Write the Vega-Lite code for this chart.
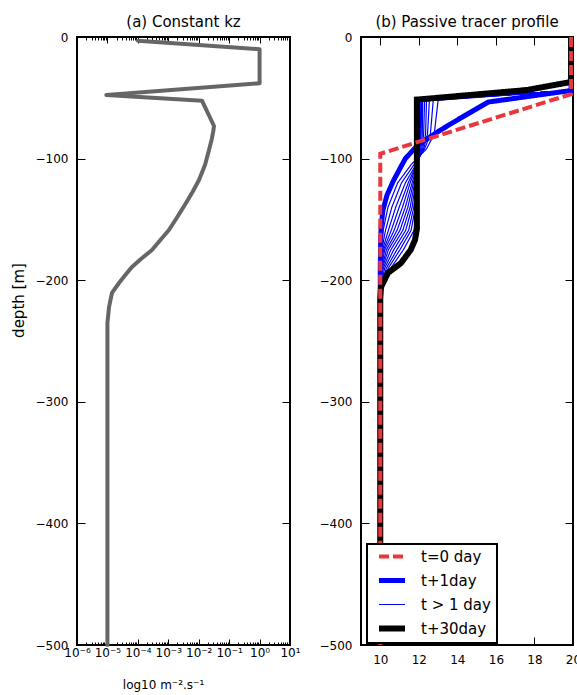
{
  "$schema": "https://vega.github.io/schema/vega-lite/v6.json",
  "padding": {"left": 10, "top": 14, "right": 5, "bottom": 5},
  "spacing": 16,
  "config": {
    "font": "DejaVu Sans",
    "view": {"stroke": "black", "strokeWidth": 2},
    "axis": {"domain": false, "grid": false, "tickColor": "black", "tickWidth": 1, "labelColor": "black", "labelFontSize": 12, "labelFont": "DejaVu Sans", "titleFont": "DejaVu Sans", "titleFontWeight": "normal", "titleFontSize": 12, "titleColor": "black", "labelOverlap": false, "labelFlush": false},
    "title": {"fontSize": 15, "fontWeight": "normal", "color": "black", "font": "DejaVu Sans", "anchor": "middle"},
    "legend": {"strokeWidth": 2}
  },
  "hconcat": [
    {
      "width": 213,
      "height": 608,
      "title": {"text": "(a) Constant kz", "offset": 1},
      "data": {"values": [
        {"kz": 0.0001, "depth": -3},
        {"kz": 1.0, "depth": -10},
        {"kz": 1.0, "depth": -38},
        {"kz": 0.0000092, "depth": -47.7},
        {"kz": 0.0128, "depth": -52.4},
        {"kz": 0.0318, "depth": -73.2},
        {"kz": 0.0298, "depth": -78},
        {"kz": 0.0268, "depth": -84},
        {"kz": 0.0218, "depth": -92.9},
        {"kz": 0.0162, "depth": -105},
        {"kz": 0.0102, "depth": -117.6},
        {"kz": 0.0064, "depth": -127},
        {"kz": 0.00382, "depth": -136.5},
        {"kz": 0.0021, "depth": -147},
        {"kz": 0.00105, "depth": -158.7},
        {"kz": 0.00055, "depth": -167},
        {"kz": 0.00029, "depth": -175.2},
        {"kz": 0.000135, "depth": -182},
        {"kz": 0.000064, "depth": -189.1},
        {"kz": 0.000038, "depth": -196},
        {"kz": 0.000024, "depth": -202.3},
        {"kz": 0.0000141, "depth": -210.5},
        {"kz": 0.0000113, "depth": -222},
        {"kz": 0.00001, "depth": -235.2},
        {"kz": 0.00001, "depth": -257},
        {"kz": 0.00001, "depth": -500}
      ]},
      "layer": [
        {
          "mark": {"type": "line", "color": "#666666", "strokeWidth": 4, "strokeCap": "round", "strokeJoin": "round"},
          "encoding": {
            "x": {"field": "kz", "type": "quantitative", "scale": {"type": "log", "domain": [0.000001, 10], "nice": false},
              "axis": {"orient": "bottom", "values": [0.000001, 0.00001, 0.0001, 0.001, 0.01, 0.1, 1, 10], "tickSize": -6, "labelPadding": 8,
                "labelExpr": "['10⁻⁶','10⁻⁵','10⁻⁴','10⁻³','10⁻²','10⁻¹','10⁰','10¹'][round(log(datum.value)/LN10)+6]",
                "title": "log10 m⁻².s⁻¹", "titleX": 86, "titleY": 43, "titleAlign": "center", "titleBaseline": "alphabetic"}},
            "y": {"field": "depth", "type": "quantitative", "scale": {"domain": [-500, 0], "nice": false, "zero": false},
              "axis": {"orient": "left", "values": [0, -100, -200, -300, -400, -500], "tickSize": -8, "labelPadding": 17,
                "title": "depth [m]", "titleFontSize": 15, "titleX": -59, "titleY": 263, "titleAlign": "center", "titleBaseline": "middle", "titleAngle": 270}},
            "order": {"field": "depth", "sort": "descending"}
          }
        },
        {
          "mark": {"type": "line", "strokeOpacity": 0},
          "encoding": {
            "x": {"field": "kz", "type": "quantitative", "axis": {"orient": "top", "values": [0.000001, 0.00001, 0.0001, 0.001, 0.01, 0.1, 1, 10], "tickSize": -6, "labels": false, "title": null}},
            "y": {"field": "depth", "type": "quantitative", "axis": {"orient": "right", "values": [0, -100, -200, -300, -400, -500], "tickSize": -8, "labels": false, "title": null}},
            "order": {"field": "depth", "sort": "descending"}
          }
        },
        {
          "mark": {"type": "line", "strokeOpacity": 0},
          "encoding": {
            "x": {"field": "kz", "type": "quantitative", "axis": {"orient": "bottom", "values": [0.000002,0.000003,0.000004,0.000005,0.000006,0.000007,0.000008,0.000009,0.00002,0.00003,0.00004,0.00005,0.00006,0.00007,0.00008,0.00009,0.0002,0.0003,0.0004,0.0005,0.0006,0.0007,0.0008,0.0009,0.002,0.003,0.004,0.005,0.006,0.007,0.008,0.009,0.02,0.03,0.04,0.05,0.06,0.07,0.08,0.09,0.2,0.3,0.4,0.5,0.6,0.7,0.8,0.9,2,3,4,5,6,7,8,9], "tickSize": -3, "labels": false, "title": null}},
            "y": {"field": "depth", "type": "quantitative", "axis": null},
            "order": {"field": "depth", "sort": "descending"}
          }
        },
        {
          "mark": {"type": "line", "strokeOpacity": 0},
          "encoding": {
            "x": {"field": "kz", "type": "quantitative", "axis": {"orient": "top", "values": [0.000002,0.000003,0.000004,0.000005,0.000006,0.000007,0.000008,0.000009,0.00002,0.00003,0.00004,0.00005,0.00006,0.00007,0.00008,0.00009,0.0002,0.0003,0.0004,0.0005,0.0006,0.0007,0.0008,0.0009,0.002,0.003,0.004,0.005,0.006,0.007,0.008,0.009,0.02,0.03,0.04,0.05,0.06,0.07,0.08,0.09,0.2,0.3,0.4,0.5,0.6,0.7,0.8,0.9,2,3,4,5,6,7,8,9], "tickSize": -3, "labels": false, "title": null}},
            "y": {"field": "depth", "type": "quantitative", "axis": null},
            "order": {"field": "depth", "sort": "descending"}
          }
        }
      ],
      "resolve": {"axis": {"x": "independent", "y": "independent"}}
    },
    {
      "width": 212,
      "height": 608,
      "title": {"text": "(b) Passive tracer profile", "offset": 1},
      "data": {"values": [
        {"s": "t=0 day", "r": "t0", "T": 19.9, "depth": 0},
        {"s": "t=0 day", "r": "t0", "T": 19.9, "depth": -47},
        {"s": "t=0 day", "r": "t0", "T": 10, "depth": -96},
        {"s": "t=0 day", "r": "t0", "T": 10, "depth": -500},

        {"s": "t+1day", "r": "t1", "T": 19.9, "depth": 0},
        {"s": "t+1day", "r": "t1", "T": 19.9, "depth": -44},
        {"s": "t+1day", "r": "t1", "T": 15.6, "depth": -53.5},
        {"s": "t+1day", "r": "t1", "T": 14.17, "depth": -66.6},
        {"s": "t+1day", "r": "t1", "T": 13.13, "depth": -76.5},
        {"s": "t+1day", "r": "t1", "T": 11.95, "depth": -88.8},
        {"s": "t+1day", "r": "t1", "T": 11.3, "depth": -100},
        {"s": "t+1day", "r": "t1", "T": 10.7, "depth": -117.6},
        {"s": "t+1day", "r": "t1", "T": 10.35, "depth": -130},
        {"s": "t+1day", "r": "t1", "T": 10.14, "depth": -142.3},
        {"s": "t+1day", "r": "t1", "T": 10.05, "depth": -155},
        {"s": "t+1day", "r": "t1", "T": 10.02, "depth": -167},
        {"s": "t+1day", "r": "t1", "T": 10, "depth": -190},
        {"s": "t+1day", "r": "t1", "T": 10, "depth": -500},

        {"s": "t+30day", "r": "t30", "T": 19.9, "depth": 0},
        {"s": "t+30day", "r": "t30", "T": 19.9, "depth": -37},
        {"s": "t+30day", "r": "t30", "T": 17.6, "depth": -43.6},
        {"s": "t+30day", "r": "t30", "T": 11.9, "depth": -51.5},
        {"s": "t+30day", "r": "t30", "T": 11.9, "depth": -158},
        {"s": "t+30day", "r": "t30", "T": 11.8, "depth": -167},
        {"s": "t+30day", "r": "t30", "T": 11.58, "depth": -175},
        {"s": "t+30day", "r": "t30", "T": 11.07, "depth": -186},
        {"s": "t+30day", "r": "t30", "T": 10.4, "depth": -194},
        {"s": "t+30day", "r": "t30", "T": 10.04, "depth": -205.6},
        {"s": "t+30day", "r": "t30", "T": 10, "depth": -215},
        {"s": "t+30day", "r": "t30", "T": 10, "depth": -500},

        {"s": "t > 1 day", "r": "d2", "T": 19.9, "depth": 0},
        {"s": "t > 1 day", "r": "d2", "T": 19.9, "depth": -44},
        {"s": "t > 1 day", "r": "d2", "T": 13.0, "depth": -52},
        {"s": "t > 1 day", "r": "d2", "T": 12.8, "depth": -80},
        {"s": "t > 1 day", "r": "d2", "T": 12.4, "depth": -92},
        {"s": "t > 1 day", "r": "d2", "T": 11.6, "depth": -105},
        {"s": "t > 1 day", "r": "d2", "T": 10.9, "depth": -120},
        {"s": "t > 1 day", "r": "d2", "T": 10.4, "depth": -140},
        {"s": "t > 1 day", "r": "d2", "T": 10.15, "depth": -159},
        {"s": "t > 1 day", "r": "d2", "T": 10.04, "depth": -175},
        {"s": "t > 1 day", "r": "d2", "T": 10.01, "depth": -190},
        {"s": "t > 1 day", "r": "d2", "T": 10, "depth": -205},
        {"s": "t > 1 day", "r": "d2", "T": 10, "depth": -220},

        {"s": "t > 1 day", "r": "d3", "T": 19.9, "depth": 0},
        {"s": "t > 1 day", "r": "d3", "T": 19.9, "depth": -44},
        {"s": "t > 1 day", "r": "d3", "T": 12.75, "depth": -52},
        {"s": "t > 1 day", "r": "d3", "T": 12.6, "depth": -80},
        {"s": "t > 1 day", "r": "d3", "T": 12.3, "depth": -92},
        {"s": "t > 1 day", "r": "d3", "T": 11.75, "depth": -105},
        {"s": "t > 1 day", "r": "d3", "T": 11.1, "depth": -120},
        {"s": "t > 1 day", "r": "d3", "T": 10.6, "depth": -140},
        {"s": "t > 1 day", "r": "d3", "T": 10.27, "depth": -159},
        {"s": "t > 1 day", "r": "d3", "T": 10.08, "depth": -175},
        {"s": "t > 1 day", "r": "d3", "T": 10.02, "depth": -190},
        {"s": "t > 1 day", "r": "d3", "T": 10, "depth": -205},
        {"s": "t > 1 day", "r": "d3", "T": 10, "depth": -220},

        {"s": "t > 1 day", "r": "d4", "T": 19.9, "depth": 0},
        {"s": "t > 1 day", "r": "d4", "T": 19.9, "depth": -44},
        {"s": "t > 1 day", "r": "d4", "T": 12.55, "depth": -52},
        {"s": "t > 1 day", "r": "d4", "T": 12.45, "depth": -80},
        {"s": "t > 1 day", "r": "d4", "T": 12.25, "depth": -92},
        {"s": "t > 1 day", "r": "d4", "T": 11.85, "depth": -105},
        {"s": "t > 1 day", "r": "d4", "T": 11.3, "depth": -120},
        {"s": "t > 1 day", "r": "d4", "T": 10.8, "depth": -140},
        {"s": "t > 1 day", "r": "d4", "T": 10.42, "depth": -159},
        {"s": "t > 1 day", "r": "d4", "T": 10.12, "depth": -175},
        {"s": "t > 1 day", "r": "d4", "T": 10.03, "depth": -190},
        {"s": "t > 1 day", "r": "d4", "T": 10, "depth": -205},
        {"s": "t > 1 day", "r": "d4", "T": 10, "depth": -220},

        {"s": "t > 1 day", "r": "d5", "T": 19.9, "depth": 0},
        {"s": "t > 1 day", "r": "d5", "T": 19.9, "depth": -44},
        {"s": "t > 1 day", "r": "d5", "T": 12.4, "depth": -52},
        {"s": "t > 1 day", "r": "d5", "T": 12.35, "depth": -80},
        {"s": "t > 1 day", "r": "d5", "T": 12.2, "depth": -92},
        {"s": "t > 1 day", "r": "d5", "T": 11.88, "depth": -105},
        {"s": "t > 1 day", "r": "d5", "T": 11.45, "depth": -120},
        {"s": "t > 1 day", "r": "d5", "T": 10.98, "depth": -140},
        {"s": "t > 1 day", "r": "d5", "T": 10.57, "depth": -159},
        {"s": "t > 1 day", "r": "d5", "T": 10.17, "depth": -175},
        {"s": "t > 1 day", "r": "d5", "T": 10.04, "depth": -190},
        {"s": "t > 1 day", "r": "d5", "T": 10.01, "depth": -205},
        {"s": "t > 1 day", "r": "d5", "T": 10, "depth": -220},

        {"s": "t > 1 day", "r": "d6", "T": 19.9, "depth": 0},
        {"s": "t > 1 day", "r": "d6", "T": 19.9, "depth": -44},
        {"s": "t > 1 day", "r": "d6", "T": 12.3, "depth": -52},
        {"s": "t > 1 day", "r": "d6", "T": 12.25, "depth": -80},
        {"s": "t > 1 day", "r": "d6", "T": 12.15, "depth": -92},
        {"s": "t > 1 day", "r": "d6", "T": 11.9, "depth": -105},
        {"s": "t > 1 day", "r": "d6", "T": 11.55, "depth": -120},
        {"s": "t > 1 day", "r": "d6", "T": 11.15, "depth": -140},
        {"s": "t > 1 day", "r": "d6", "T": 10.72, "depth": -159},
        {"s": "t > 1 day", "r": "d6", "T": 10.23, "depth": -175},
        {"s": "t > 1 day", "r": "d6", "T": 10.06, "depth": -190},
        {"s": "t > 1 day", "r": "d6", "T": 10.01, "depth": -205},
        {"s": "t > 1 day", "r": "d6", "T": 10, "depth": -220},

        {"s": "t > 1 day", "r": "d7", "T": 19.9, "depth": 0},
        {"s": "t > 1 day", "r": "d7", "T": 19.9, "depth": -44},
        {"s": "t > 1 day", "r": "d7", "T": 12.2, "depth": -52},
        {"s": "t > 1 day", "r": "d7", "T": 12.18, "depth": -80},
        {"s": "t > 1 day", "r": "d7", "T": 12.1, "depth": -92},
        {"s": "t > 1 day", "r": "d7", "T": 11.92, "depth": -105},
        {"s": "t > 1 day", "r": "d7", "T": 11.65, "depth": -120},
        {"s": "t > 1 day", "r": "d7", "T": 11.3, "depth": -140},
        {"s": "t > 1 day", "r": "d7", "T": 10.87, "depth": -159},
        {"s": "t > 1 day", "r": "d7", "T": 10.32, "depth": -175},
        {"s": "t > 1 day", "r": "d7", "T": 10.08, "depth": -190},
        {"s": "t > 1 day", "r": "d7", "T": 10.01, "depth": -205},
        {"s": "t > 1 day", "r": "d7", "T": 10, "depth": -220},

        {"s": "t > 1 day", "r": "d8", "T": 19.9, "depth": 0},
        {"s": "t > 1 day", "r": "d8", "T": 19.9, "depth": -44},
        {"s": "t > 1 day", "r": "d8", "T": 12.15, "depth": -52},
        {"s": "t > 1 day", "r": "d8", "T": 12.12, "depth": -80},
        {"s": "t > 1 day", "r": "d8", "T": 12.05, "depth": -92},
        {"s": "t > 1 day", "r": "d8", "T": 11.93, "depth": -105},
        {"s": "t > 1 day", "r": "d8", "T": 11.72, "depth": -120},
        {"s": "t > 1 day", "r": "d8", "T": 11.43, "depth": -140},
        {"s": "t > 1 day", "r": "d8", "T": 11.02, "depth": -159},
        {"s": "t > 1 day", "r": "d8", "T": 10.42, "depth": -175},
        {"s": "t > 1 day", "r": "d8", "T": 10.11, "depth": -190},
        {"s": "t > 1 day", "r": "d8", "T": 10.02, "depth": -205},
        {"s": "t > 1 day", "r": "d8", "T": 10, "depth": -220},

        {"s": "t > 1 day", "r": "d10", "T": 19.9, "depth": 0},
        {"s": "t > 1 day", "r": "d10", "T": 19.9, "depth": -44},
        {"s": "t > 1 day", "r": "d10", "T": 12.1, "depth": -52},
        {"s": "t > 1 day", "r": "d10", "T": 12.08, "depth": -80},
        {"s": "t > 1 day", "r": "d10", "T": 12.02, "depth": -92},
        {"s": "t > 1 day", "r": "d10", "T": 11.94, "depth": -105},
        {"s": "t > 1 day", "r": "d10", "T": 11.78, "depth": -120},
        {"s": "t > 1 day", "r": "d10", "T": 11.55, "depth": -140},
        {"s": "t > 1 day", "r": "d10", "T": 11.17, "depth": -159},
        {"s": "t > 1 day", "r": "d10", "T": 10.55, "depth": -175},
        {"s": "t > 1 day", "r": "d10", "T": 10.16, "depth": -190},
        {"s": "t > 1 day", "r": "d10", "T": 10.02, "depth": -205},
        {"s": "t > 1 day", "r": "d10", "T": 10, "depth": -220},

        {"s": "t > 1 day", "r": "d12", "T": 19.9, "depth": 0},
        {"s": "t > 1 day", "r": "d12", "T": 19.9, "depth": -44},
        {"s": "t > 1 day", "r": "d12", "T": 12.05, "depth": -52},
        {"s": "t > 1 day", "r": "d12", "T": 12.04, "depth": -80},
        {"s": "t > 1 day", "r": "d12", "T": 12.0, "depth": -92},
        {"s": "t > 1 day", "r": "d12", "T": 11.95, "depth": -105},
        {"s": "t > 1 day", "r": "d12", "T": 11.83, "depth": -120},
        {"s": "t > 1 day", "r": "d12", "T": 11.65, "depth": -140},
        {"s": "t > 1 day", "r": "d12", "T": 11.32, "depth": -159},
        {"s": "t > 1 day", "r": "d12", "T": 10.7, "depth": -175},
        {"s": "t > 1 day", "r": "d12", "T": 10.23, "depth": -190},
        {"s": "t > 1 day", "r": "d12", "T": 10.03, "depth": -205},
        {"s": "t > 1 day", "r": "d12", "T": 10, "depth": -220},

        {"s": "t > 1 day", "r": "d15", "T": 19.9, "depth": 0},
        {"s": "t > 1 day", "r": "d15", "T": 19.9, "depth": -44},
        {"s": "t > 1 day", "r": "d15", "T": 12.02, "depth": -52},
        {"s": "t > 1 day", "r": "d15", "T": 12.0, "depth": -80},
        {"s": "t > 1 day", "r": "d15", "T": 11.98, "depth": -92},
        {"s": "t > 1 day", "r": "d15", "T": 11.95, "depth": -105},
        {"s": "t > 1 day", "r": "d15", "T": 11.87, "depth": -120},
        {"s": "t > 1 day", "r": "d15", "T": 11.74, "depth": -140},
        {"s": "t > 1 day", "r": "d15", "T": 11.47, "depth": -159},
        {"s": "t > 1 day", "r": "d15", "T": 10.86, "depth": -175},
        {"s": "t > 1 day", "r": "d15", "T": 10.32, "depth": -190},
        {"s": "t > 1 day", "r": "d15", "T": 10.03, "depth": -205},
        {"s": "t > 1 day", "r": "d15", "T": 10, "depth": -220},

        {"s": "t > 1 day", "r": "d19", "T": 19.9, "depth": 0},
        {"s": "t > 1 day", "r": "d19", "T": 19.9, "depth": -44},
        {"s": "t > 1 day", "r": "d19", "T": 12.0, "depth": -52},
        {"s": "t > 1 day", "r": "d19", "T": 11.98, "depth": -80},
        {"s": "t > 1 day", "r": "d19", "T": 11.96, "depth": -92},
        {"s": "t > 1 day", "r": "d19", "T": 11.95, "depth": -105},
        {"s": "t > 1 day", "r": "d19", "T": 11.9, "depth": -120},
        {"s": "t > 1 day", "r": "d19", "T": 11.82, "depth": -140},
        {"s": "t > 1 day", "r": "d19", "T": 11.6, "depth": -159},
        {"s": "t > 1 day", "r": "d19", "T": 11.02, "depth": -175},
        {"s": "t > 1 day", "r": "d19", "T": 10.42, "depth": -190},
        {"s": "t > 1 day", "r": "d19", "T": 10.03, "depth": -205},
        {"s": "t > 1 day", "r": "d19", "T": 10, "depth": -220},

        {"s": "t > 1 day", "r": "d24", "T": 19.9, "depth": 0},
        {"s": "t > 1 day", "r": "d24", "T": 19.9, "depth": -44},
        {"s": "t > 1 day", "r": "d24", "T": 11.98, "depth": -52},
        {"s": "t > 1 day", "r": "d24", "T": 11.96, "depth": -80},
        {"s": "t > 1 day", "r": "d24", "T": 11.95, "depth": -92},
        {"s": "t > 1 day", "r": "d24", "T": 11.95, "depth": -105},
        {"s": "t > 1 day", "r": "d24", "T": 11.92, "depth": -120},
        {"s": "t > 1 day", "r": "d24", "T": 11.88, "depth": -140},
        {"s": "t > 1 day", "r": "d24", "T": 11.75, "depth": -159},
        {"s": "t > 1 day", "r": "d24", "T": 11.2, "depth": -175},
        {"s": "t > 1 day", "r": "d24", "T": 10.55, "depth": -190},
        {"s": "t > 1 day", "r": "d24", "T": 10.04, "depth": -205},
        {"s": "t > 1 day", "r": "d24", "T": 10, "depth": -220}
      ]},
      "encoding": {
        "y": {"field": "depth", "type": "quantitative", "scale": {"domain": [-500, 0], "nice": false, "zero": false}},
        "x": {"field": "T", "type": "quantitative", "scale": {"domain": [9, 20], "nice": false, "zero": false}},
        "order": {"field": "depth", "sort": "descending"},
        "detail": {"field": "r"},
        "color": {"field": "s", "type": "nominal", "scale": {"domain": ["t=0 day", "t+1day", "t > 1 day", "t+30day"], "range": ["#e8383d", "#0000ff", "#0000ff", "#000000"]},
          "legend": {"title": null, "orient": "none", "legendX": 290, "legendY": 507, "symbolType": "stroke", "symbolSize": 676, "clipHeight": 13, "labelFontSize": 15, "labelFont": "DejaVu Sans", "labelColor": "black", "strokeColor": "black", "fillColor": "white", "padding": 6, "symbolOffset": 3, "rowPadding": 8, "labelOffset": 13}},
        "strokeWidth": {"field": "s", "type": "nominal", "scale": {"type": "ordinal", "domain": ["t=0 day", "t+1day", "t > 1 day", "t+30day"], "range": [4, 5, 1.2, 6]}},
        "strokeDash": {"field": "s", "type": "nominal", "scale": {"domain": ["t=0 day", "t+1day", "t > 1 day", "t+30day"], "range": [[10, 4], [1, 0], [1, 0], [1, 0]]}}
      },
      "layer": [
        {
          "transform": [{"filter": "datum.s == 't > 1 day'"}],
          "mark": {"type": "line", "clip": true},
          "encoding": {
            "x": {"field": "T", "type": "quantitative", "axis": {"orient": "bottom", "values": [10, 12, 14, 16, 18, 20], "tickSize": -8, "labelPadding": 17, "title": null}},
            "y": {"field": "depth", "type": "quantitative", "axis": {"orient": "left", "values": [0, -100, -200, -300, -400, -500], "tickSize": -8, "labelPadding": 17, "title": null}}
          }
        },
        {
          "transform": [{"filter": "datum.s == 't+1day'"}],
          "mark": {"type": "line", "clip": true},
          "encoding": {
            "x": {"field": "T", "type": "quantitative", "axis": null},
            "y": {"field": "depth", "type": "quantitative", "axis": null}
          }
        },
        {
          "transform": [{"filter": "datum.s == 't+30day'"}],
          "mark": {"type": "line", "clip": true},
          "encoding": {
            "x": {"field": "T", "type": "quantitative", "axis": null},
            "y": {"field": "depth", "type": "quantitative", "axis": null}
          }
        },
        {
          "transform": [{"filter": "datum.s == 't=0 day'"}],
          "mark": {"type": "line", "clip": true},
          "encoding": {
            "x": {"field": "T", "type": "quantitative", "axis": {"orient": "top", "values": [10, 12, 14, 16, 18, 20], "tickSize": -8, "labels": false, "title": null}},
            "y": {"field": "depth", "type": "quantitative", "axis": {"orient": "right", "values": [0, -100, -200, -300, -400, -500], "tickSize": -8, "labels": false, "title": null}}
          }
        }
      ],
      "resolve": {"axis": {"x": "independent", "y": "independent"}}
    }
  ]
}
